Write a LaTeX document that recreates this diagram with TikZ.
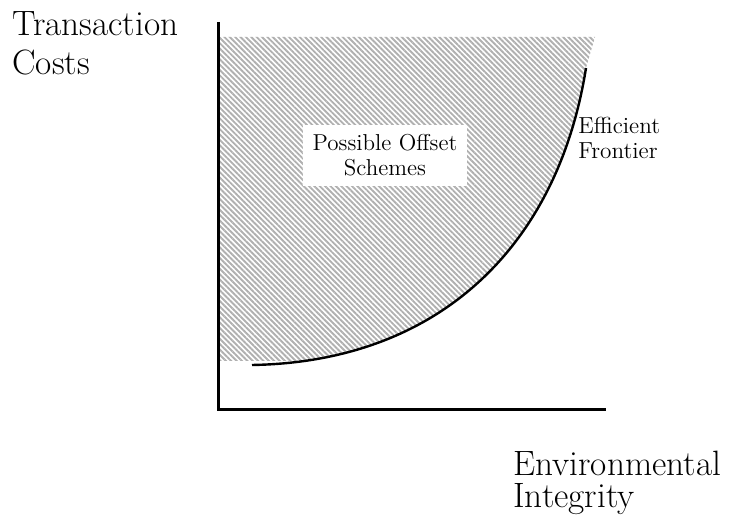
\documentclass[tikz,border=0pt]{standalone}
\usepackage{amsmath}
\usepackage{tikz}
\usetikzlibrary{patterns.meta}

\tikzset{
  axislabel/.style={anchor=north west, inner sep=0pt, align=left},
  curvelabel/.style={anchor=north west, inner sep=0pt, align=left, font=\fontsize{11.6}{12.5}\selectfont},
  regionbox/.style={fill=white, inner sep=0pt, minimum width=82pt, minimum height=30.5pt, align=center, font=\fontsize{11.5}{12.5}\selectfont},
  hatch/.style={pattern={Lines[angle=-45, distance=1.9pt, line width=0.95pt]}, pattern color=gray!62}
}

\begin{document}
\begin{tikzpicture}[x=0.5pt, y=-0.5pt]
\useasboundingbox (0,0) rectangle (740,522);
\coordinate (o) at (218,410);
\coordinate (ytop) at (218,22);
\coordinate (xend) at (606,410);
\coordinate (fs) at (252,365);
\coordinate (fe) at (586,68);
% shaded region above the frontier
\begin{scope}
\clip (218,37) rectangle (600,361);
\fill[hatch] (218,37) -- (595,37) -- (fe) .. controls (558,245) and (440,362) .. (fs) -- (218,365) -- cycle;
\end{scope}
\draw[line width=1.2pt] (fs) .. controls (440,362) and (558,245) .. (fe);
\draw[line width=1.5pt, line join=miter] (ytop) -- (o) -- (xend);
\node[axislabel, font=\fontsize{17.6}{19.5}\selectfont] (cost) at (12,11) {Transaction\\Costs};
\node[axislabel, font=\fontsize{17.6}{16}\selectfont] (integ) at (513,451) {Environmental\\Integrity};
\node[curvelabel] (front) at (578,117) {Efficient\\Frontier};
\node[regionbox] (offset) at (385,155.5) {Possible Offset\\Schemes};
\end{tikzpicture}
\end{document}
